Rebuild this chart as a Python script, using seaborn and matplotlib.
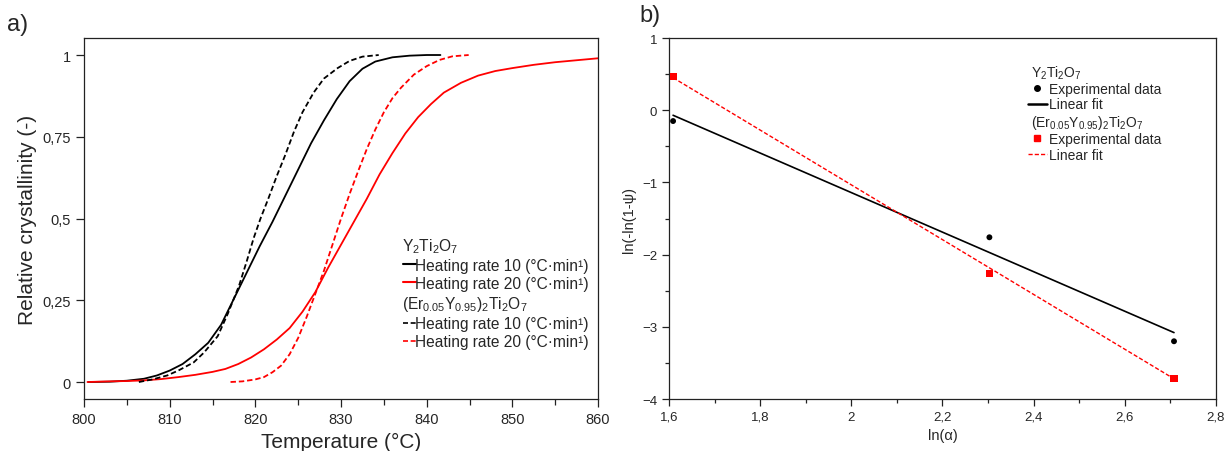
import numpy as np
import pandas as pd
import matplotlib
matplotlib.use('Agg')
import matplotlib.pyplot as plt
from matplotlib.lines import Line2D
from matplotlib.ticker import MultipleLocator, FixedLocator, FixedFormatter
import seaborn as sns

# --- DATA: panel a, relative crystallinity vs temperature ---
t_y10 = [800.5, 803, 805, 807, 808.5, 810, 811.5, 813, 814.5, 816, 817.5, 819, 820.5, 822,
         823.5, 825, 826.5, 828, 829.5, 831, 832.5, 834, 836, 838, 840, 841.6]
c_y10 = [0.0, 0.001, 0.004, 0.01, 0.02, 0.035, 0.055, 0.085, 0.12, 0.175, 0.255, 0.335, 0.415, 0.49,
         0.57, 0.65, 0.73, 0.80, 0.865, 0.92, 0.958, 0.98, 0.993, 0.998, 1.0, 1.0]

t_y20 = [800.4, 803, 805, 807, 809, 811, 813, 815, 816.5, 818, 819.5, 821, 822.5, 824, 825.5,
         827, 828.5, 830, 831.5, 833, 834.5, 836, 837.5, 839, 840.5, 842, 844, 846, 848, 850,
         852.5, 855, 857.5, 860]
c_y20 = [0.0, 0.002, 0.003, 0.005, 0.009, 0.015, 0.022, 0.031, 0.04, 0.055, 0.075, 0.10, 0.13, 0.165, 0.215,
         0.275, 0.35, 0.42, 0.49, 0.56, 0.635, 0.70, 0.76, 0.81, 0.85, 0.885, 0.915, 0.937, 0.951, 0.96,
         0.97, 0.978, 0.984, 0.99]

t_er10 = [806.4, 808, 809.7, 811, 812.8, 814, 815.6, 816.8, 818.1, 819, 819.8, 820.6, 821.5, 822.5,
          823.5, 824.5, 825.5, 826.8, 828, 829.6, 831, 832.5, 834.4]
c_er10 = [0.0, 0.008, 0.02, 0.035, 0.06, 0.09, 0.14, 0.21, 0.295, 0.37, 0.44, 0.50, 0.56, 0.63,
          0.695, 0.765, 0.825, 0.885, 0.928, 0.96, 0.982, 0.995, 1.0]

t_er20 = [817.1, 818.5, 820, 821, 822, 823, 824, 825, 826, 827, 828, 829, 830, 831, 832, 833, 834,
          835, 836, 837, 838.5, 840, 841.5, 843, 844.9]
c_er20 = [0.0, 0.002, 0.008, 0.015, 0.03, 0.05, 0.085, 0.135, 0.20, 0.27, 0.34, 0.42, 0.50, 0.575, 0.645,
          0.712, 0.772, 0.825, 0.868, 0.90, 0.94, 0.966, 0.985, 0.996, 1.0]

# --- DATA: panel b, ln(-ln(1-psi)) vs ln(alpha) ---
ln_alpha = [1.609, 2.303, 2.708]
y_pts = [-0.15, -1.76, -3.20]
er_pts = [0.47, -2.26, -3.72]
fit_x = [1.609, 2.708]
y_fit = [-0.07, -3.08]
er_fit = [0.45, -3.72]

# tick labels (comma decimals as in the original)
a_yticks = [0, 0.25, 0.5, 0.75, 1]
a_ylabels = ['0', '0,25', '0,5', '0,75', '1']
b_xticks = [1.6, 1.8, 2.0, 2.2, 2.4, 2.6, 2.8]
b_xlabels = ['1,6', '1,8', '2', '2,2', '2,4', '2,6', '2,8']
b_yticks = [-4, -3, -2, -1, 0, 1]
b_ylabels = ['\u22124', '\u22123', '\u22122', '\u22121', '0', '1']

name_y = r'Y$_{\mathregular{2}}$Ti$_{\mathregular{2}}$O$_{\mathregular{7}}$'
name_er = (r'(Er$_{\mathregular{0.05}}$Y$_{\mathregular{0.95}}$)$_{\mathregular{2}}$'
           r'Ti$_{\mathregular{2}}$O$_{\mathregular{7}}$')

# --- STYLE ---
sns.set_style("ticks")
plt.rcParams['font.family'] = ['Liberation Sans', 'DejaVu Sans']
plt.rcParams['mathtext.fontset'] = 'custom'
plt.rcParams['mathtext.rm'] = 'Liberation Sans'
plt.rcParams['mathtext.it'] = 'Liberation Sans:italic'
plt.rcParams['axes.edgecolor'] = '#222222'
plt.rcParams['axes.linewidth'] = 0.9

RED = '#ff0000'

fig = plt.figure(figsize=(12.25, 4.52), dpi=100)
ax_a = fig.add_axes([0.0686, 0.1150, 0.4196, 0.7987])
ax_b = fig.add_axes([0.5461, 0.1150, 0.4465, 0.7987])


def left_align_headers(leg, headers):
    # header rows have no handle: pull their text to the handle column
    for col in leg._legend_handle_box.get_children():
        for row in col.get_children():
            da, ta = row.get_children()
            if ta.get_text() in headers:
                da.width = 0


# --- PANEL A ---
curves = [
    (t_y10, c_y10, 'black', '-'),
    (t_y20, c_y20, RED, '-'),
    (t_er10, c_er10, 'black', (0, (3, 1.6))),
    (t_er20, c_er20, RED, (0, (3, 1.6))),
]
for tx, cy, col, ls in curves:
    sns.lineplot(x=tx, y=cy, ax=ax_a, color=col, linestyle=ls, linewidth=1.3, sort=False)

ax_a.set_xlim(800, 860)
ax_a.set_ylim(-0.052, 1.052)
ax_a.xaxis.set_major_locator(MultipleLocator(10))
ax_a.xaxis.set_minor_locator(MultipleLocator(5))
ax_a.yaxis.set_major_locator(FixedLocator(a_yticks))
ax_a.yaxis.set_major_formatter(FixedFormatter(a_ylabels))
ax_a.tick_params(axis='both', which='major', direction='out', length=6, width=0.9,
                 labelsize=10.5, color='#222222')
ax_a.tick_params(axis='both', which='minor', direction='out', length=4, width=0.9, color='#222222')
ax_a.set_xlabel('Temperature (°C)', fontsize=15)
ax_a.set_ylabel('Relative crystallinity (-)', fontsize=15)

rate10 = 'Heating rate 10 (°C·min¹)'
rate20 = 'Heating rate 20 (°C·min¹)'
blank = Line2D([], [], linestyle='none')
h_a = [blank,
       Line2D([], [], color='black', lw=1.5),
       Line2D([], [], color=RED, lw=1.5),
       blank,
       Line2D([], [], color='black', lw=1.2, linestyle=(0, (3, 1.6))),
       Line2D([], [], color=RED, lw=1.2, linestyle=(0, (3, 1.6)))]
l_a = [name_y, rate10, rate20, name_er, rate10, rate20]
leg_a = ax_a.legend(h_a, l_a, loc='upper left', bbox_to_anchor=(0.62, 0.452), frameon=False,
                    fontsize=11.2, handlelength=0.85, handletextpad=-0.05, labelspacing=0.2,
                    borderpad=0, borderaxespad=0)
left_align_headers(leg_a, [name_y, name_er])

# --- PANEL B ---
sns.lineplot(x=fit_x, y=y_fit, ax=ax_b, color='black', linewidth=1.2)
sns.lineplot(x=fit_x, y=er_fit, ax=ax_b, color=RED, linewidth=1.0, linestyle=(0, (3, 1.5)))
sns.scatterplot(x=ln_alpha, y=y_pts, ax=ax_b, color='black', marker='o', s=18, edgecolor='none', zorder=3)
sns.scatterplot(x=ln_alpha, y=er_pts, ax=ax_b, color=RED, marker='s', s=26, edgecolor='none', zorder=3)

ax_b.set_xlim(1.6, 2.8)
ax_b.set_ylim(-4, 1)
ax_b.xaxis.set_major_locator(FixedLocator(b_xticks))
ax_b.xaxis.set_major_formatter(FixedFormatter(b_xlabels))
ax_b.xaxis.set_minor_locator(MultipleLocator(0.1))
ax_b.yaxis.set_major_locator(FixedLocator(b_yticks))
ax_b.yaxis.set_major_formatter(FixedFormatter(b_ylabels))
ax_b.yaxis.set_minor_locator(MultipleLocator(0.5))
ax_b.tick_params(axis='both', which='major', direction='out', length=5, width=0.9,
                 labelsize=9.5, color='#222222')
ax_b.tick_params(axis='both', which='minor', direction='out', length=3, width=0.9, color='#222222')
ax_b.set_xlabel('ln(α)', fontsize=10.5)
ax_b.set_ylabel('ln(-ln(1-ψ)', fontsize=10.5)

h_b = [blank,
       Line2D([], [], color='black', marker='o', markersize=4, linestyle='none'),
       Line2D([], [], color='black', lw=1.8),
       blank,
       Line2D([], [], color=RED, marker='s', markersize=5, linestyle='none'),
       Line2D([], [], color=RED, lw=1.0, linestyle=(0, (3, 1.5)))]
l_b = [name_y, 'Experimental data', 'Linear fit', name_er, 'Experimental data', 'Linear fit']
leg_b = ax_b.legend(h_b, l_b, loc='upper left', bbox_to_anchor=(0.656, 0.93), frameon=False,
                    fontsize=10, handlelength=1.35, handletextpad=0.2, labelspacing=0.1,
                    borderpad=0, borderaxespad=0)
left_align_headers(leg_b, [name_y, name_er])

fig.text(0.006, 0.945, 'a)', fontsize=17, va='center', ha='left')
fig.text(0.522, 0.965, 'b)', fontsize=17, va='center', ha='left')

fig.savefig('out.png', dpi=100)
